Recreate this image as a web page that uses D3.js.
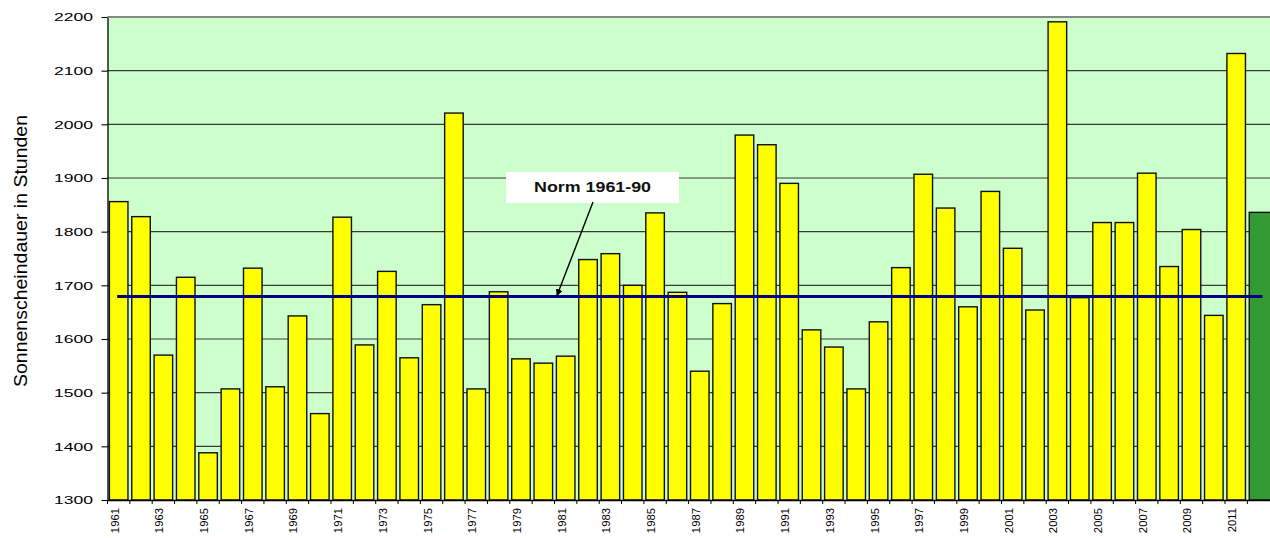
<!DOCTYPE html>
<html>
<head>
<meta charset="utf-8">
<script src="https://cdn.jsdelivr.net/npm/d3@7"></script>
<style>
  html, body { margin: 0; padding: 0; background: #ffffff; }
  svg { display: block; }
  text { font-family: "Liberation Sans", Arial, sans-serif; }
</style>
</head>
<body>
<svg id="chart" width="1270" height="538"></svg>
<script>
// ---- data ----
const years = [1961,1962,1963,1964,1965,1966,1967,1968,1969,1970,
               1971,1972,1973,1974,1975,1976,1977,1978,1979,1980,
               1981,1982,1983,1984,1985,1986,1987,1988,1989,1990,
               1991,1992,1993,1994,1995,1996,1997,1998,1999,2000,
               2001,2002,2003,2004,2005,2006,2007,2008,2009,2010,
               2011,2012];
const sunshineHours = [1856,1828,1570,1715,1388,1507,1732,1511,1643,1461,
                       1827,1589,1726,1565,1664,2021,1507,1688,1563,1555,
                       1568,1748,1759,1700,1835,1687,1540,1666,1980,1962,
                       1890,1617,1585,1507,1632,1733,1907,1844,1660,1875,
                       1769,1654,2191,1677,1817,1817,1909,1735,1804,1644,
                       2132,1836];
const highlightYears = [2012];
const normValue = 1679;
const normLabel = "Norm 1961-90";
const yTicks = [1300,1400,1500,1600,1700,1800,1900,2000,2100,2200];
const xTickLabels = [1961,1963,1965,1967,1969,1971,1973,1975,1977,1979,1981,1983,1985,
                     1987,1989,1991,1993,1995,1997,1999,2001,2003,2005,2007,2009,2011];
const yTitle = "Sonnenscheindauer in Stunden";

(function () {
// ---- layout ----
const svg = d3.select("#chart");
const pL = 107.5, pR = 1269.7, pT = 17, pB = 500;

const x = d3.scaleBand().domain(years).range([pL, pR]).paddingInner(0.17).paddingOuter(0.085);
const xb = d3.scaleBand().domain(years).range([pL, pR]); // full bands for ticks
const y = d3.scaleLinear().domain([1300, 2200]).range([pB, pT]);

// plot background
svg.append("rect")
  .attr("x", pL).attr("y", pT)
  .attr("width", pR - pL + 2).attr("height", pB - pT)
  .attr("fill", "#ccffcc");

// gridlines
svg.append("g").selectAll("line").data(yTicks.filter(d => d > 1300)).join("line")
  .attr("x1", pL).attr("x2", 1270)
  .attr("y1", d => y(d)).attr("y2", d => y(d))
  .attr("stroke", d => d === 2200 ? "#7f7f7f" : "#3a3a3a")
  .attr("stroke-width", d => d === 2200 ? 1.6 : 1.1);

// bars
const data = years.map((yr, i) => ({year: yr, value: sunshineHours[i]}));
svg.append("g").selectAll("rect").data(data).join("rect")
  .attr("x", d => x(d.year))
  .attr("y", d => y(d.value))
  .attr("width", d => highlightYears.includes(d.year) ? x.bandwidth() + 6 : x.bandwidth())
  .attr("height", d => y(1300) - y(d.value))
  .attr("fill", d => highlightYears.includes(d.year) ? "#339933" : "#ffff00")
  .attr("stroke", "#111")
  .attr("stroke-width", 1.4);

// norm line
svg.append("line")
  .attr("x1", x(years[0]) + x.bandwidth() / 2 - 1.5)
  .attr("x2", x(years[years.length - 1]) + x.bandwidth() / 2 + 4)
  .attr("y1", y(normValue)).attr("y2", y(normValue))
  .attr("stroke", "#000080").attr("stroke-width", 3);

// y axis
const yAxis = d3.axisLeft(y).tickValues(yTicks).tickSize(6).tickSizeOuter(0).tickFormat(d3.format("d"));
const gy = svg.append("g").attr("transform", `translate(${pL},0)`).call(yAxis);
gy.select(".domain").attr("stroke", "#000").attr("stroke-width", 1.3);
gy.selectAll(".tick line").attr("stroke", "#000").attr("stroke-width", 1.1);
gy.selectAll(".tick text")
  .attr("x", -14.5)
  .attr("font-size", 11.5)
  .attr("fill", "#000")
  .attr("textLength", 39)
  .attr("lengthAdjust", "spacingAndGlyphs");

// x axis
const xAxis = d3.axisBottom(xb).tickSize(0).tickSizeOuter(0).tickFormat("");
const gx = svg.append("g").attr("transform", `translate(0,${pB})`).call(xAxis);
gx.select(".domain").attr("stroke", "#000").attr("stroke-width", 1.3);
gx.selectAll(".tick").remove();
// ticks at band boundaries
svg.append("g").selectAll("line").data(years).join("line")
  .attr("x1", d => xb(d)).attr("x2", d => xb(d))
  .attr("y1", pB).attr("y2", pB + 4)
  .attr("stroke", "#000").attr("stroke-width", 1);
// labels
svg.append("g").selectAll("text").data(xTickLabels).join("text")
  .attr("transform", d => `translate(${xb(d) + xb.bandwidth() / 2},${pB + 8}) rotate(-90)`)
  .attr("text-anchor", "end")
  .attr("font-size", 11.3)
  .attr("fill", "#000")
  .text(d => d);

// top border
svg.append("line").attr("x1", pL).attr("x2", 1270).attr("y1", pT).attr("y2", pT)
  .attr("stroke", "#7f7f7f").attr("stroke-width", 1.6);

// y title
svg.append("text")
  .attr("transform", "translate(27,251) rotate(-90)")
  .attr("text-anchor", "middle")
  .attr("font-size", 18)
  .attr("fill", "#000")
  .attr("textLength", 272)
  .attr("lengthAdjust", "spacingAndGlyphs")
  .text(yTitle);

// annotation box
svg.append("rect")
  .attr("x", 506).attr("y", 172).attr("width", 173).attr("height", 31)
  .attr("fill", "#ffffff");
svg.append("text")
  .attr("x", 592.5).attr("y", 191.5)
  .attr("text-anchor", "middle")
  .attr("font-size", 14).attr("font-weight", "bold")
  .attr("fill", "#111")
  .attr("textLength", 117)
  .attr("lengthAdjust", "spacingAndGlyphs")
  .text(normLabel);

// arrow
const defs = svg.append("defs");
defs.append("marker").attr("id", "arrow")
  .attr("viewBox", "0 0 10 10").attr("refX", 9).attr("refY", 5)
  .attr("markerWidth", 7).attr("markerHeight", 7).attr("markerUnits", "userSpaceOnUse")
  .attr("orient", "auto")
  .append("path").attr("d", "M0,0 L10,5 L0,10 z").attr("fill", "#000");
svg.append("line")
  .attr("x1", 593).attr("y1", 202)
  .attr("x2", 557).attr("y2", y(normValue) - 1)
  .attr("stroke", "#000").attr("stroke-width", 1.4)
  .attr("marker-end", "url(#arrow)");
})();
</script>
</body>
</html>
